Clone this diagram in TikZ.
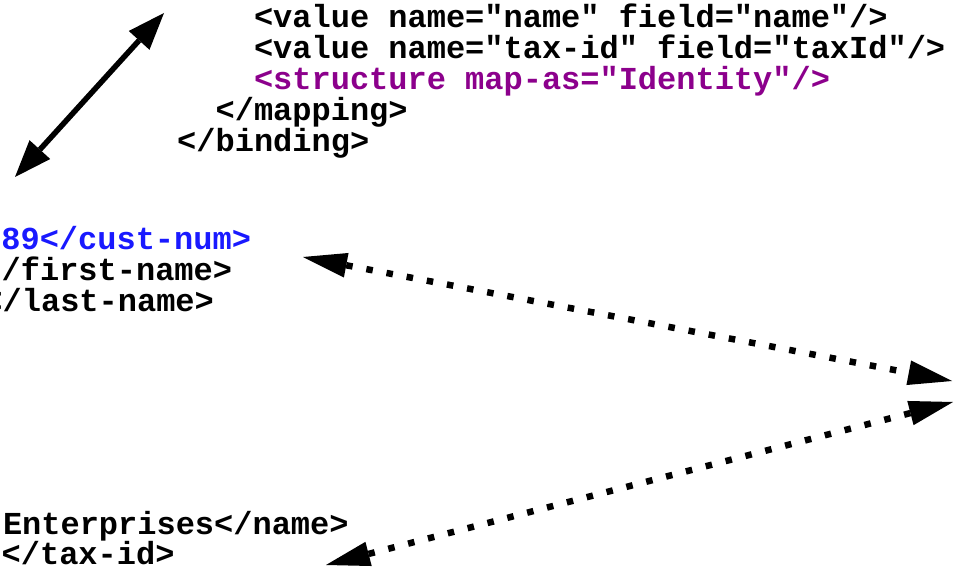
\documentclass[tikz,border=0pt]{standalone}
\usepackage{fontspec}
\newfontfamily\codefont{Liberation Mono}
\usetikzlibrary{arrows.meta}
\definecolor{xmlpurple}{RGB}{140,0,140}
\definecolor{xmlblue}{RGB}{25,25,255}
\tikzset{
  code/.style={anchor=base west, inner sep=0pt, outer sep=0pt,
    font=\codefont\bfseries\fontsize{32}{31}\selectfont},
  solidarrow/.style={line width=5.5pt,
    {Triangle[length=37pt,width=28pt,line width=0pt]}-{Triangle[length=37pt,width=28pt,line width=0pt]}},
  dotarrow/.style={line width=6.5pt, dash pattern=on 6.5pt off 14pt,
    {Triangle[length=44pt,width=25pt,line width=0pt]}-{Triangle[length=44pt,width=25pt,line width=0pt]}}
}
\begin{document}
\begin{tikzpicture}[x=1pt,y=-1pt]
\useasboundingbox (0,0) rectangle (954,572);
\fill[white] (0,0) rectangle (954,572);
\clip (0,0) rectangle (954,572);
% binding text (right)
\node[code] (v1) at (254,28) {<value name="name" field="name"/>};
\node[code] (v2) at (254,59) {<value name="tax-id" field="taxId"/>};
\node[code, text=xmlpurple] (st) at (254,90) {<structure map-as="Identity"/>};
\node[code] (em) at (215.6,121) {</mapping>};
\node[code] (eb) at (177.2,152) {</binding>};
% customer XML (left)
\node[code, text=xmlblue] (cn) at (-17.8,250) {789</cust-num>};
\node[code] (fn) at (-17.5,281) {</first-name>};
\node[code] (ln) at (-16.5,312) {</last-name>};
% company XML (bottom left)
\node[code] (nm) at (3,534) {Enterprises</name>};
\node[code] (tx) at (-17.5,564) {.</tax-id>};
% connector end points
\coordinate (sa) at (164,13);
\coordinate (sb) at (15,177);
\coordinate (da) at (303,257);
\coordinate (db) at (952,381);
\coordinate (ea) at (953,402);
\coordinate (eb2) at (326,565);
\draw[solidarrow] (sb) -- (sa);
\draw[dotarrow] (da) -- (db);
\draw[dotarrow] (ea) -- (eb2);
\end{tikzpicture}
\end{document}
